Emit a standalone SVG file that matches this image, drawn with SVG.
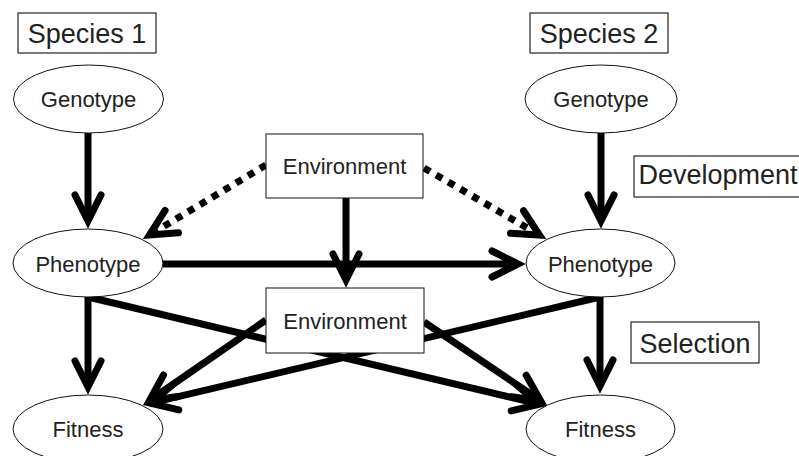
<svg xmlns="http://www.w3.org/2000/svg" width="799" height="456" viewBox="0 0 799 456">
<style>
.lbl{fill:#fff;stroke:#222;stroke-width:1.2}
.node{fill:#fff;stroke:#111;stroke-width:1}
.t{font-family:"Liberation Sans",Arial,sans-serif;fill:#222;text-anchor:middle}
.big{font-size:27px}
.small{font-size:22px}
.c{fill:none;stroke:#000;stroke-width:7}
.dot{stroke-dasharray:7 7}
</style>
<defs>
<marker id="ah" markerUnits="userSpaceOnUse" markerWidth="60" markerHeight="40" refX="40" refY="20" orient="auto" overflow="visible">
<path d="M14,7 L40,20 L14,33" fill="none" stroke="#000" stroke-width="7" stroke-linecap="round" stroke-linejoin="miter"/>
</marker>
</defs>
<rect width="799" height="456" fill="#fff"/>
<g id="connectors">
<line class="c" x1="88" y1="133" x2="88" y2="221" marker-end="url(#ah)"/>
<line class="c" x1="601" y1="133" x2="601" y2="221" marker-end="url(#ah)"/>
<line class="c" x1="346" y1="198" x2="346" y2="280" marker-end="url(#ah)"/>
<line class="c" x1="163" y1="264" x2="518" y2="264" marker-end="url(#ah)"/>
<line class="c" x1="88" y1="297" x2="88" y2="387" marker-end="url(#ah)"/>
<line class="c" x1="600" y1="297" x2="600" y2="386" marker-end="url(#ah)"/>
<line class="c" x1="88" y1="297" x2="539.5" y2="404.2" marker-end="url(#ah)"/>
<line class="c" x1="424" y1="322" x2="540.5" y2="400.6" marker-end="url(#ah)"/>
<line class="c" x1="266" y1="320" x2="149.5" y2="400.5" marker-end="url(#ah)"/>
<line class="c" x1="600" y1="297" x2="150.5" y2="403.2" marker-end="url(#ah)"/>
<line class="c dot" x1="266" y1="165" x2="149.5" y2="235" marker-end="url(#ah)"/>
<line class="c dot" x1="424" y1="168" x2="539.5" y2="235" marker-end="url(#ah)"/>
</g>
<g id="species1"><rect class="lbl" x="18" y="13" width="138" height="40"/><text class="t big" x="87" y="43">Species 1</text></g>
<g id="species2"><rect class="lbl" x="530" y="13" width="138" height="40"/><text class="t big" x="599" y="43">Species 2</text></g>
<g id="development"><rect class="lbl" x="634" y="156" width="170" height="41"/><text class="t big" x="718" y="184">Development</text></g>
<g id="selection"><rect class="lbl" x="631" y="322" width="128" height="41"/><text class="t big" x="695" y="353">Selection</text></g>
<g id="genotype1"><ellipse class="node" cx="88.5" cy="99" rx="75" ry="34"/><text class="t small" x="88.5" y="107">Genotype</text></g>
<g id="genotype2"><ellipse class="node" cx="601" cy="99" rx="76" ry="34"/><text class="t small" x="601" y="107">Genotype</text></g>
<g id="environment1"><rect class="node" x="266" y="134" width="157" height="64"/><text class="t small" x="344.5" y="174">Environment</text></g>
<g id="environment2"><rect class="node" x="266" y="288" width="158" height="65"/><text class="t small" x="345" y="329">Environment</text></g>
<g id="phenotype1"><ellipse class="node" cx="88" cy="263" rx="75" ry="34"/><text class="t small" x="88" y="272">Phenotype</text></g>
<g id="phenotype2"><ellipse class="node" cx="600.5" cy="263" rx="74.5" ry="34"/><text class="t small" x="600.5" y="272">Phenotype</text></g>
<g id="fitness1"><ellipse class="node" cx="88" cy="429" rx="75" ry="34"/><text class="t small" x="88" y="437">Fitness</text></g>
<g id="fitness2"><ellipse class="node" cx="600.5" cy="429" rx="74.5" ry="34"/><text class="t small" x="600.5" y="437">Fitness</text></g>
</svg>
